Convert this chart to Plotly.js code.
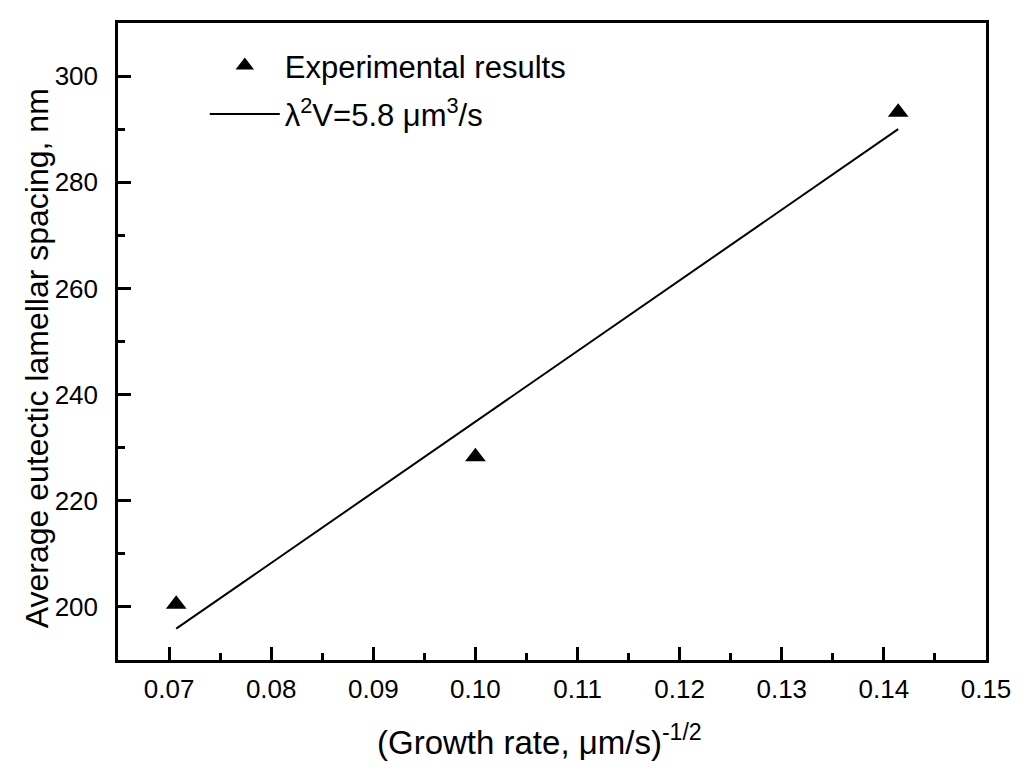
<!DOCTYPE html>
<html>
<head>
<meta charset="utf-8">
<script src="https://cdn.plot.ly/plotly-3.0.1.min.js"></script>
<style>
  html, body { margin: 0; padding: 0; background: #fff; }
  #spacing-chart { width: 1024px; height: 772px; }
</style>
</head>
<body>
<div id="spacing-chart"></div>
<script>
/* eutectic lamellar spacing vs growth rate^-1/2 */

const expX = [0.0707, 0.1, 0.1414];
const expSpacing = [200.5, 228.3, 293.2];

const fitX = [0.0707, 0.1414];
const fitSpacing = [195.9, 290.0];

const seriesNames = ["Experimental results", "λ<sup>2</sup>V=5.8 μm<sup>3</sup>/s"];
const xTitle = "(Growth rate, μm/s)<sup>-1/2</sup>";
const yTitle = "Average eutectic lamellar spacing, nm";

const FONT = "Liberation Sans, Arial, sans-serif";

document.addEventListener("DOMContentLoaded", () => {
  renderSpacingChart();
});

function renderSpacingChart() {
  const expTrace = {
    type: "scatter",
    mode: "markers",
    name: seriesNames[0],
    legendgroup: "exp",
    x: expX,
    y: expSpacing,
    marker: { symbol: "triangle-up", size: 18, color: "#000" },
  };

  const fitTrace = {
    type: "scatter",
    mode: "lines",
    name: seriesNames[1],
    legendgroup: "fit",
    x: fitX,
    y: fitSpacing,
    line: { color: "#000", width: 2 },
  };

  const axisBase = {
    showline: true,
    linecolor: "#000",
    linewidth: 2.5,
    mirror: true,
    showgrid: false,
    zeroline: false,
    ticks: "inside",
    ticklen: 13,
    tickwidth: 2.5,
    tickcolor: "#000",
    tickfont: { family: FONT, size: 26, color: "#000" },
  };

  const layout = {
    width: 1024,
    height: 772,
    paper_bgcolor: "#fff",
    plot_bgcolor: "#fff",
    font: { family: FONT, color: "#000" },
    margin: { t: 23, r: 38, b: 112, l: 118 },
    showlegend: true,
    legend: {
      x: 0.1,
      y: 0.975,
      xanchor: "left",
      yanchor: "top",
      bgcolor: "rgba(0,0,0,0)",
      font: { family: FONT, size: 31, color: "#000" },
      traceorder: "grouped",
      tracegroupgap: 5,
      itemwidth: 70,
    },
    xaxis: {
      ...axisBase,
      range: [0.065, 0.15],
      dtick: 0.01,
      tickformat: ".2f",
      ticklabelstandoff: 4,
      minor: { ticks: "inside", ticklen: 7, tickwidth: 2.5, tickcolor: "#000", dtick: 0.005 },
    },
    yaxis: {
      ...axisBase,
      range: [190, 310],
      dtick: 20,
      ticklabelstandoff: 12,
      minor: { ticks: "inside", ticklen: 7, tickwidth: 2.5, tickcolor: "#000", dtick: 10 },
    },
    // axis titles as annotations so they sit where the original has them
    annotations: [
      {
        xref: "paper",
        yref: "paper",
        x: 0.486,
        y: -0.126,
        xanchor: "center",
        yanchor: "middle",
        text: xTitle,
        showarrow: false,
        font: { family: FONT, size: 33, color: "#000" },
      },
      {
        xref: "paper",
        yref: "paper",
        x: -0.093,
        y: 0.474,
        xanchor: "center",
        yanchor: "middle",
        text: yTitle,
        textangle: -90,
        showarrow: false,
        font: { family: FONT, size: 32, color: "#000" },
      },
    ],
  };

  Plotly.newPlot("spacing-chart", [expTrace, fitTrace], layout, {
    displayModeBar: false,
    responsive: false,
  });
}
</script>
</body>
</html>
